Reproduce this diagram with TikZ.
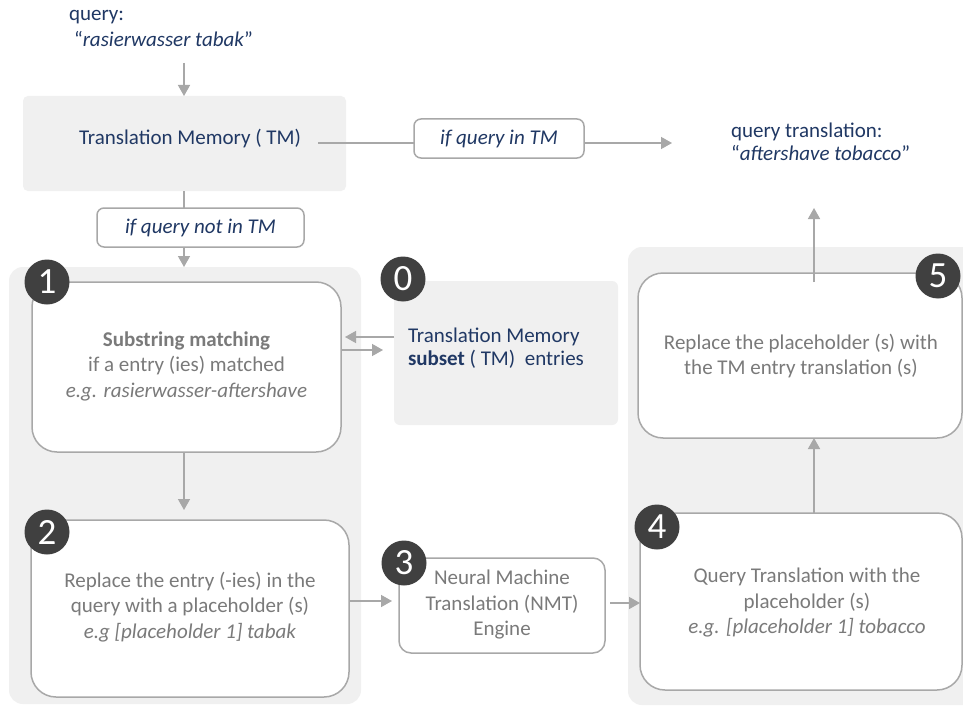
\documentclass[tikz,border=0pt]{standalone}
\usepackage{fontspec}
\setmainfont{Carlito}
\usetikzlibrary{arrows.meta,calc}
\definecolor{navy}{HTML}{203864}
\definecolor{txtgray}{HTML}{7A7A7A}
\definecolor{linegray}{HTML}{A8A8A8}
\definecolor{bggray}{HTML}{F0F0F0}
\definecolor{numbg}{HTML}{404040}
\begin{document}
\begin{tikzpicture}[x=1pt,y=-1pt,
  every node/.style={inner sep=0pt, outer sep=0pt},
  conn/.style={draw=linegray, line width=1.5pt},
  arr/.style={conn, -{Triangle[length=11pt,width=12pt]}},
  bgpanel/.style={fill=bggray, rounded corners=14pt},
  tmbox/.style={fill=bggray, rounded corners=5pt},
  stepbox/.style={draw=linegray, line width=1.5pt, fill=white, rounded corners=25pt},
  smallbox/.style={draw=linegray, line width=1.5pt, fill=white, rounded corners=12pt},
  lbl/.style={draw=linegray, line width=1.5pt, fill=white, rounded corners=7pt,
    font=\fontsize{21}{24}\selectfont\itshape, text=navy},
  num/.style={circle, fill=numbg, minimum size=45pt, text=white,
    font=\fontsize{37}{37}\selectfont},
  gtxt/.style={text=txtgray, align=center, font=\fontsize{21}{25.5}\selectfont},
  ntxt/.style={text=navy, font=\fontsize{21}{23}\selectfont}
]
\useasboundingbox (0,0) rectangle (963,706);
\fill[white] (0,0) rectangle (963,706);

% background panels
\node[bgpanel, minimum width=352pt, minimum height=437pt] (lbg) at (185,485.5) {};
\node[bgpanel, minimum width=352pt, minimum height=458pt] (rbg) at (804,476) {};

% query
\node[ntxt, anchor=base west] (q1) at (69,21) {query:};
\node[ntxt, anchor=base west] (q2) at (74,47) {“\textit{rasierwasser tabak}”};

% translation memory
\node[tmbox, minimum width=323pt, minimum height=95pt] (tm) at (184.5,143.5) {};
\node[ntxt] (tmt) at (190,138.5) {Translation Memory ( TM)};

% labels
\node[lbl, minimum width=170pt, minimum height=39pt] (l1) at (499,138.5) {if query in TM};
\node[lbl, minimum width=207pt, minimum height=39pt] (l2) at (200.5,227.5) {if query not in TM};

% query translation
\node[ntxt, anchor=base west] (qt1) at (731,137) {query translation:};
\node[ntxt, anchor=base west] (qt2) at (731,160) {“\textit{aftershave tobacco}”};

% boxes
\node[stepbox, minimum width=309pt, minimum height=170pt] (b1) at (186.5,367) {};
\node[gtxt] (b1t) at (186.5,366) {\textbf{Substring matching}\\ if a entry (ies) matched\\ \textit{e.g. rasierwasser-aftershave}};

\node[tmbox, rounded corners=6pt, minimum width=224pt, minimum height=144pt] (b0) at (506,353) {};
\node[ntxt, align=left, anchor=base west] (b0t) at (408,365) {Translation Memory\\ \textbf{subset} ( TM)~ entries};

\node[stepbox, minimum width=318pt, minimum height=177pt] (b2) at (190,608.5) {};
\node[gtxt] (b2t) at (190,607) {Replace the entry (-ies) in the\\ query with a placeholder (s)\\ \textit{e.g [placeholder 1] tabak}};

\node[smallbox, minimum width=206pt, minimum height=95pt] (b3) at (502,605.5) {};
\node[gtxt] (b3t) at (502,605) {Neural Machine\\ Translation (NMT)\\ Engine};

\node[stepbox, minimum width=322pt, minimum height=177pt] (b4) at (801,601.5) {};
\node[gtxt] (b4t) at (807,603) {Query Translation with the\\ placeholder (s)\\ \textit{e.g. [placeholder 1] tobacco}};

\node[stepbox, minimum width=324pt, minimum height=165pt] (b5) at (800,355.5) {};
\node[gtxt] (b5t) at (801,356) {Replace the placeholder (s) with\\ the TM entry translation (s)};

% connectors
\coordinate (qa) at (184,63);
\draw[arr] (qa) -- (qa |- tm.north);
\coordinate (tmr) at (318,143);
\coordinate (qtin) at (672,143);
\draw[conn] (tmr) -- (tmr -| l1.west);
\draw[arr] (tmr -| l1.east) -- (qtin);
\draw[conn] (tm.south -| 184,0) -- (l2.north -| 184,0);
\draw[arr] (l2.south -| 184,0) -- (lbg.north -| 184,0);
\draw[arr, shorten >=4pt] (b0.west |- 0,337) -- (b1.east |- 0,337);
\draw[arr, shorten >=11pt] (b1.east |- 0,350) -- (b0.west |- 0,350);
\draw[arr, shorten >=10pt] (b1.south -| 184,0) -- (b2.north -| 184,0);
\draw[arr, shorten >=7pt] (b2.east |- 0,601) -- (b3.west |- 0,601);
\draw[arr, shorten <=5pt] (b3.east |- 0,603) -- (b4.west |- 0,603);
\draw[arr] (b4.north -| 814,0) -- (b5.south -| 814,0);
\coordinate (b5s) at (814,282);
\coordinate (qtb) at (814,208);
\draw[arr] (b5s) -- (qtb);

% number badges
\node[num] (n1) at (47,282) {1};
\node[num] (n0) at (403,279) {0};
\node[num] (n2) at (47,532) {2};
\node[num] (n3) at (404,563) {3};
\node[num] (n4) at (657,527) {4};
\node[num] (n5) at (938,276) {5};
\end{tikzpicture}
\end{document}
